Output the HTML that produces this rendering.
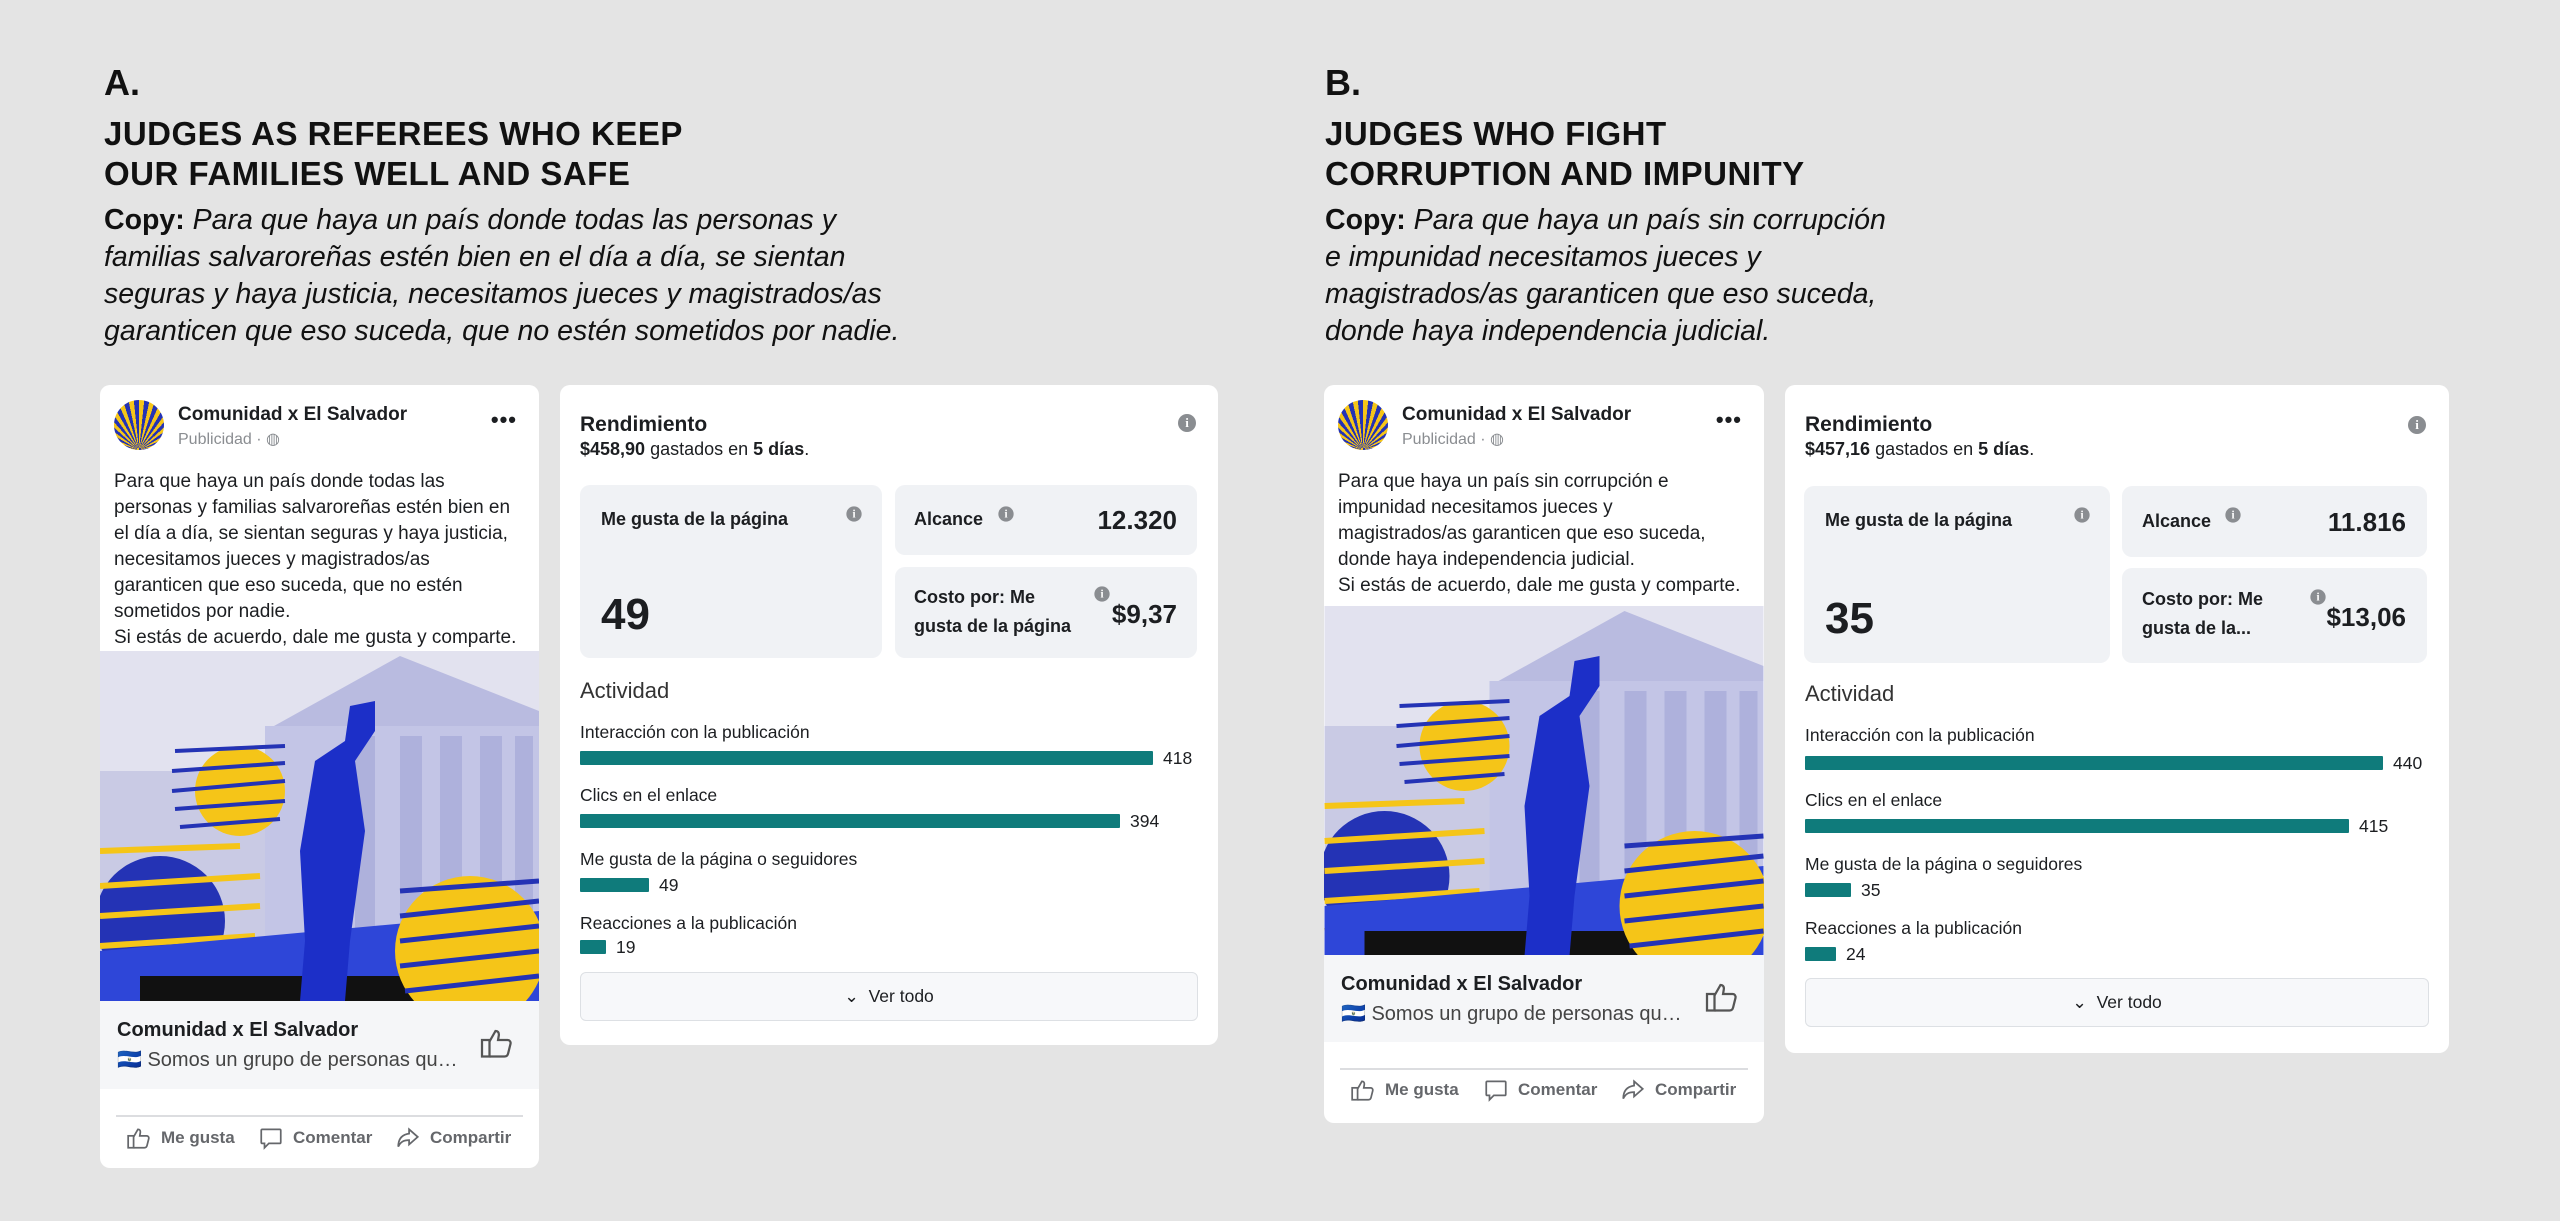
<!DOCTYPE html>
<html><head><meta charset="utf-8">
<style>
*{margin:0;padding:0;box-sizing:border-box}
body{width:2560px;height:1221px;background:#e4e4e4;position:relative;overflow:hidden;font-family:"Liberation Sans",sans-serif;color:#1c1e21}
.abs{position:absolute}
.h{position:absolute;font-weight:bold;font-size:33px;line-height:40px;color:#111;letter-spacing:0.5px}
.letter{position:absolute;font-weight:bold;font-size:36px;color:#111}
.copy{position:absolute;font-size:28.5px;line-height:37px;color:#111;font-style:italic}
.copy b{font-style:normal}
.card{position:absolute;background:#fff;border-radius:10px;overflow:hidden}
.av{position:absolute;width:50px;height:50px;border-radius:50%;background:repeating-conic-gradient(from 0deg at 50% 100%,#f5c518 0 6deg,#2433b5 6deg 12deg);left:14px;top:15px}
.name{position:absolute;left:78px;top:19px;font-weight:bold;font-size:19px}
.pub{position:absolute;left:78px;top:44px;font-size:16px;color:#8a8d91}
.dots{position:absolute;right:22px;top:22px;font-size:22px;font-weight:bold;letter-spacing:1px}
.body{position:absolute;left:14px;top:84px;font-size:19px;line-height:26px;width:430px;white-space:nowrap}
.foot{position:absolute;left:0;right:0;background:#f5f6f8}
.ft{position:absolute;left:17px;top:18px;font-weight:bold;font-size:20px}
.fd{position:absolute;left:17px;top:46px;font-size:20px;color:#444}
.div{position:absolute;left:16px;right:16px;height:2px;background:#dcdde0}
.act{position:absolute;font-weight:bold;font-size:17px;color:#65676b;display:flex;align-items:center;gap:9px}
.pt{position:absolute;left:20px;top:28px;font-weight:bold;font-size:21px}
.ps{position:absolute;left:20px;top:54px;font-size:18px}
.info{position:absolute;width:18px;height:18px;border-radius:50%;background:#8a8d91;color:#fff;font-size:13px;font-weight:bold;text-align:center;line-height:18px;font-family:"Liberation Serif",serif}
.box{position:absolute;background:#f0f2f5;border-radius:10px}
.bl{position:absolute;font-weight:bold;font-size:18px;line-height:29px}
.bv{position:absolute;font-weight:bold;font-size:26px}
.ac{position:absolute;left:20px;font-size:22px;color:#333}
.lab{position:absolute;left:20px;font-size:17.5px}
.bar{position:absolute;left:20px;height:14px;background:#0f7b7b;border-radius:1px}
.val{position:absolute;font-size:17.5px}
.ver{position:absolute;left:20px;border:1px solid #dde0e4;background:#f7f8fa;border-radius:6px;font-size:17.5px;text-align:center}
</style></head><body>

<svg width="0" height="0" style="position:absolute">
</svg>

<!-- A text -->
<div class="letter" style="left:104px;top:62px">A.</div>
<div class="h" style="left:104px;top:114px">JUDGES AS REFEREES WHO KEEP<br>OUR FAMILIES WELL AND SAFE</div>
<div class="copy" style="left:104px;top:202px"><b>Copy:</b> Para que haya un país donde todas las personas y<br>familias salvaroreñas estén bien en el día a día, se sientan<br>seguras y haya justicia, necesitamos jueces y magistrados/as<br>garanticen que eso suceda, que no estén sometidos por nadie.</div>

<!-- B text -->
<div class="letter" style="left:1325px;top:62px">B.</div>
<div class="h" style="left:1325px;top:114px">JUDGES WHO FIGHT<br>CORRUPTION AND IMPUNITY</div>
<div class="copy" style="left:1325px;top:202px"><b>Copy:</b> Para que haya un país sin corrupción<br>e impunidad necesitamos jueces y<br>magistrados/as garanticen que eso suceda,<br>donde haya independencia judicial.</div>

<!-- A post -->
<div class="card" style="left:100px;top:385px;width:439px;height:783px">
 <div class="av"></div>
 <div class="name">Comunidad x El Salvador</div>
 <div class="pub">Publicidad · ◍</div>
 <div class="dots">•••</div>
 <div class="body">Para que haya un país donde todas las<br>personas y familias salvaroreñas estén bien en<br>el día a día, se sientan seguras y haya justicia,<br>necesitamos jueces y magistrados/as<br>garanticen que eso suceda, que no estén<br>sometidos por nadie.<br>Si estás de acuerdo, dale me gusta y comparte.</div>
 <svg class="abs" style="left:0;top:266px" width="439" height="350" viewBox="0 0 439 350">
  <rect width="439" height="350" fill="#e2e2ef"/>
  <rect x="0" y="120" width="200" height="200" fill="#c9cae4"/>
  <polygon points="165,80 300,5 439,60 439,80" fill="#b9bbe0"/>
  <rect x="165" y="75" width="274" height="240" fill="#c3c5e6"/>
  <g fill="#aeb1dc"><rect x="300" y="85" width="22" height="230"/><rect x="340" y="85" width="22" height="230"/><rect x="380" y="85" width="22" height="230"/><rect x="415" y="85" width="18" height="230"/><rect x="255" y="85" width="20" height="230"/></g>
  <circle cx="140" cy="140" r="45" fill="#f5c518"/>
  <g stroke="#2433b5" stroke-width="4"><line x1="75" y1="100" x2="185" y2="95"/><line x1="72" y1="120" x2="185" y2="112"/><line x1="72" y1="140" x2="185" y2="130"/><line x1="75" y1="158" x2="185" y2="150"/><line x1="80" y1="176" x2="180" y2="168"/></g>
  <circle cx="60" cy="270" r="65" fill="#2433b5"/>
  <g stroke="#f5c518" stroke-width="6"><line x1="0" y1="200" x2="140" y2="195"/><line x1="0" y1="235" x2="160" y2="225"/><line x1="0" y1="265" x2="160" y2="255"/><line x1="0" y1="295" x2="155" y2="285"/><line x1="0" y1="325" x2="160" y2="310"/></g>
  <polygon points="0,300 439,260 439,350 0,350" fill="#2e46d8"/>
  <rect x="40" y="325" width="300" height="25" fill="#111"/>
  <polygon points="250,55 275,50 275,80 255,110 265,180 250,290 245,350 200,350 205,290 200,200 215,110 245,90" fill="#1c2fc8"/>
  <circle cx="370" cy="300" r="75" fill="#f5c518"/>
  <g stroke="#2433b5" stroke-width="5"><line x1="300" y1="240" x2="439" y2="230"/><line x1="300" y1="265" x2="439" y2="250"/><line x1="300" y1="290" x2="439" y2="275"/><line x1="300" y1="315" x2="439" y2="300"/><line x1="305" y1="340" x2="439" y2="325"/></g>
 </svg>
 <div class="foot" style="top:616px;height:88px"><div class="ft">Comunidad x El Salvador</div><div class="fd">🇸🇻 Somos un grupo de personas qu…</div>
  <svg class="abs" style="right:24px;top:24px" width="36" height="36" viewBox="0 0 24 24" fill="none" stroke="#555" stroke-width="1.5"><rect x="2" y="10" width="5" height="11"/><path d="M7 11l4-7c1.5 0 2.5 1 2.2 3L12.7 10H19c1.5 0 2.3 1.3 2 2.6l-1.6 6.4c-.3 1.2-1.2 2-2.4 2H7"/></svg></div>
 <div class="div" style="top:730px"></div>
 <div class="act" style="left:26px;top:740px"><svg width="26" height="26" viewBox="0 0 24 24" fill="none" stroke="#65676b" stroke-width="1.6"><rect x="2" y="10" width="5" height="11"/><path d="M7 11l4-7c1.5 0 2.5 1 2.2 3L12.7 10H19c1.5 0 2.3 1.3 2 2.6l-1.6 6.4c-.3 1.2-1.2 2-2.4 2H7"/></svg>Me gusta</div>
 <div class="act" style="left:158px;top:740px"><svg width="26" height="26" viewBox="0 0 24 24" fill="none" stroke="#65676b" stroke-width="1.6"><path d="M4 4h16a1 1 0 0 1 1 1v11a1 1 0 0 1-1 1H10l-4 4v-4H4a1 1 0 0 1-1-1V5a1 1 0 0 1 1-1z"/></svg>Comentar</div>
 <div class="act" style="left:295px;top:740px"><svg width="26" height="26" viewBox="0 0 24 24" fill="none" stroke="#65676b" stroke-width="1.6"><path d="M13 4l8 7-8 7v-4c-5 0-8 1.5-10 6 0-7 3-11 10-12z"/></svg>Compartir</div>
</div>

<!-- A perf -->
<div class="card" style="left:560px;top:385px;width:658px;height:660px">
 <div class="pt">Rendimiento</div>
 <div class="ps"><b>$458,90</b> gastados en <b>5 días</b>.</div>
 <div class="info" style="left:618px;top:29px">i</div>
 <div class="box" style="left:20px;top:100px;width:302px;height:173px"><div class="bl" style="left:21px;top:20px">Me gusta de la página</div><div class="info" style="left:265px;top:20px;transform:scale(.85)">i</div><div class="bv" style="left:21px;top:105px;font-size:44px">49</div></div>
 <div class="box" style="left:335px;top:100px;width:302px;height:70px"><div class="bl" style="left:19px;top:20px">Alcance</div><div class="info" style="left:102px;top:20px;transform:scale(.85)">i</div><div class="bv" style="right:20px;top:20px">12.320</div></div>
 <div class="box" style="left:335px;top:182px;width:302px;height:91px"><div class="bl" style="left:19px;top:16px">Costo por: Me<br>gusta de la página</div><div class="info" style="left:198px;top:18px;transform:scale(.85)">i</div><div class="bv" style="right:20px;top:32px">$9,37</div></div>
 <div class="ac" style="top:293px">Actividad</div>
 <div class="lab" style="top:337px">Interacción con la publicación</div><div class="bar" style="top:366px;width:573px"></div><div class="val" style="left:603px;top:363px">418</div>
 <div class="lab" style="top:400px">Clics en el enlace</div><div class="bar" style="top:429px;width:540px"></div><div class="val" style="left:570px;top:426px">394</div>
 <div class="lab" style="top:464px">Me gusta de la página o seguidores</div><div class="bar" style="top:493px;width:69px"></div><div class="val" style="left:99px;top:490px">49</div>
 <div class="lab" style="top:528px">Reacciones a la publicación</div><div class="bar" style="top:555px;width:26px"></div><div class="val" style="left:56px;top:552px">19</div>
 <div class="ver" style="top:587px;width:618px;height:49px;line-height:47px">⌄&nbsp;&nbsp;Ver todo</div>
</div>

<!-- B post -->
<div class="card" style="left:1324px;top:385px;width:440px;height:738px">
 <div class="av"></div>
 <div class="name">Comunidad x El Salvador</div>
 <div class="pub">Publicidad · ◍</div>
 <div class="dots">•••</div>
 <div class="body">Para que haya un país sin corrupción e<br>impunidad necesitamos jueces y<br>magistrados/as garanticen que eso suceda,<br>donde haya independencia judicial.<br>Si estás de acuerdo, dale me gusta y comparte.</div>
 <svg class="abs" style="left:0;top:221px" width="440" height="350" viewBox="0 0 439 350">
  <rect width="439" height="350" fill="#e2e2ef"/>
  <rect x="0" y="120" width="200" height="200" fill="#c9cae4"/>
  <polygon points="165,80 300,5 439,60 439,80" fill="#b9bbe0"/>
  <rect x="165" y="75" width="274" height="240" fill="#c3c5e6"/>
  <g fill="#aeb1dc"><rect x="300" y="85" width="22" height="230"/><rect x="340" y="85" width="22" height="230"/><rect x="380" y="85" width="22" height="230"/><rect x="415" y="85" width="18" height="230"/><rect x="255" y="85" width="20" height="230"/></g>
  <circle cx="140" cy="140" r="45" fill="#f5c518"/>
  <g stroke="#2433b5" stroke-width="4"><line x1="75" y1="100" x2="185" y2="95"/><line x1="72" y1="120" x2="185" y2="112"/><line x1="72" y1="140" x2="185" y2="130"/><line x1="75" y1="158" x2="185" y2="150"/><line x1="80" y1="176" x2="180" y2="168"/></g>
  <circle cx="60" cy="270" r="65" fill="#2433b5"/>
  <g stroke="#f5c518" stroke-width="6"><line x1="0" y1="200" x2="140" y2="195"/><line x1="0" y1="235" x2="160" y2="225"/><line x1="0" y1="265" x2="160" y2="255"/><line x1="0" y1="295" x2="155" y2="285"/><line x1="0" y1="325" x2="160" y2="310"/></g>
  <polygon points="0,300 439,260 439,350 0,350" fill="#2e46d8"/>
  <rect x="40" y="325" width="300" height="25" fill="#111"/>
  <polygon points="250,55 275,50 275,80 255,110 265,180 250,290 245,350 200,350 205,290 200,200 215,110 245,90" fill="#1c2fc8"/>
  <circle cx="370" cy="300" r="75" fill="#f5c518"/>
  <g stroke="#2433b5" stroke-width="5"><line x1="300" y1="240" x2="439" y2="230"/><line x1="300" y1="265" x2="439" y2="250"/><line x1="300" y1="290" x2="439" y2="275"/><line x1="300" y1="315" x2="439" y2="300"/><line x1="305" y1="340" x2="439" y2="325"/></g>
 </svg>
 <div class="foot" style="top:570px;height:87px"><div class="ft">Comunidad x El Salvador</div><div class="fd">🇸🇻 Somos un grupo de personas qu…</div>
  <svg class="abs" style="right:24px;top:24px" width="36" height="36" viewBox="0 0 24 24" fill="none" stroke="#555" stroke-width="1.5"><rect x="2" y="10" width="5" height="11"/><path d="M7 11l4-7c1.5 0 2.5 1 2.2 3L12.7 10H19c1.5 0 2.3 1.3 2 2.6l-1.6 6.4c-.3 1.2-1.2 2-2.4 2H7"/></svg></div>
 <div class="div" style="top:683px"></div>
 <div class="act" style="left:26px;top:692px"><svg width="26" height="26" viewBox="0 0 24 24" fill="none" stroke="#65676b" stroke-width="1.6"><rect x="2" y="10" width="5" height="11"/><path d="M7 11l4-7c1.5 0 2.5 1 2.2 3L12.7 10H19c1.5 0 2.3 1.3 2 2.6l-1.6 6.4c-.3 1.2-1.2 2-2.4 2H7"/></svg>Me gusta</div>
 <div class="act" style="left:159px;top:692px"><svg width="26" height="26" viewBox="0 0 24 24" fill="none" stroke="#65676b" stroke-width="1.6"><path d="M4 4h16a1 1 0 0 1 1 1v11a1 1 0 0 1-1 1H10l-4 4v-4H4a1 1 0 0 1-1-1V5a1 1 0 0 1 1-1z"/></svg>Comentar</div>
 <div class="act" style="left:296px;top:692px"><svg width="26" height="26" viewBox="0 0 24 24" fill="none" stroke="#65676b" stroke-width="1.6"><path d="M13 4l8 7-8 7v-4c-5 0-8 1.5-10 6 0-7 3-11 10-12z"/></svg>Compartir</div>
</div>

<!-- B perf -->
<div class="card" style="left:1785px;top:385px;width:664px;height:668px">
 <div class="pt">Rendimiento</div>
 <div class="ps"><b>$457,16</b> gastados en <b>5 días</b>.</div>
 <div class="info" style="left:623px;top:31px">i</div>
 <div class="box" style="left:19px;top:101px;width:306px;height:177px"><div class="bl" style="left:21px;top:20px">Me gusta de la página</div><div class="info" style="left:269px;top:20px;transform:scale(.85)">i</div><div class="bv" style="left:21px;top:108px;font-size:44px">35</div></div>
 <div class="box" style="left:337px;top:101px;width:305px;height:71px"><div class="bl" style="left:20px;top:21px">Alcance</div><div class="info" style="left:102px;top:20px;transform:scale(.85)">i</div><div class="bv" style="right:21px;top:21px">11.816</div></div>
 <div class="box" style="left:337px;top:183px;width:305px;height:95px"><div class="bl" style="left:20px;top:17px">Costo por: Me<br>gusta de la...</div><div class="info" style="left:187px;top:20px;transform:scale(.85)">i</div><div class="bv" style="right:21px;top:34px">$13,06</div></div>
 <div class="ac" style="top:296px">Actividad</div>
 <div class="lab" style="top:340px">Interacción con la publicación</div><div class="bar" style="top:371px;width:578px"></div><div class="val" style="left:608px;top:368px">440</div>
 <div class="lab" style="top:405px">Clics en el enlace</div><div class="bar" style="top:434px;width:544px"></div><div class="val" style="left:574px;top:431px">415</div>
 <div class="lab" style="top:469px">Me gusta de la página o seguidores</div><div class="bar" style="top:498px;width:46px"></div><div class="val" style="left:76px;top:495px">35</div>
 <div class="lab" style="top:533px">Reacciones a la publicación</div><div class="bar" style="top:562px;width:31px"></div><div class="val" style="left:61px;top:559px">24</div>
 <div class="ver" style="top:593px;width:624px;height:49px;line-height:47px">⌄&nbsp;&nbsp;Ver todo</div>
</div>
</body></html>
